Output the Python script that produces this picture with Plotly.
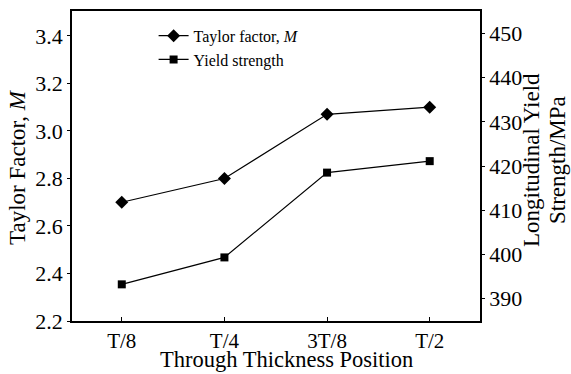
import plotly.graph_objects as go

positions = ["T/8", "T/4", "3T/8", "T/2"]
taylor_factor = [2.70, 2.80, 3.07, 3.10]
yield_strength = [393.2, 399.3, 418.5, 421.1]

x_title = "Through Thickness Position"
y_title = "Taylor Factor, <i>M</i>"
y2_title_lines = ["Longitudinal Yield", "Strength/MPa"]

FONT = "Liberation Serif"

fig = go.Figure()
fig.add_trace(go.Scatter(
    x=positions, y=taylor_factor, name="Taylor factor, <i>M</i>",
    mode="lines+markers",
    line=dict(color="black", width=1.2),
    marker=dict(symbol="diamond", size=10, color="black"),
))
fig.add_trace(go.Scatter(
    x=positions, y=yield_strength, name="Yield strength",
    mode="lines+markers", yaxis="y2",
    line=dict(color="black", width=1.2),
    marker=dict(symbol="square", size=8, color="black"),
))

def px_x(px):
    return (px - 72) / 408

def px_y(py):
    return (321 - py) / 310

annotations = [
    dict(text=x_title, xref="paper", yref="paper", x=px_x(286), y=px_y(359),
         xanchor="center", yanchor="middle", showarrow=False,
         font=dict(size=22.5, family=FONT, color="black")),
    dict(text=y_title, xref="paper", yref="paper", x=px_x(18), y=px_y(167),
         xanchor="center", yanchor="middle", showarrow=False, textangle=-90,
         font=dict(size=23, family=FONT, color="black")),
]
for line_text, cx in zip(y2_title_lines, [532, 558]):
    annotations.append(dict(
        text=line_text, xref="paper", yref="paper", x=px_x(cx), y=px_y(160),
        xanchor="center", yanchor="middle", showarrow=False, textangle=-90,
        font=dict(size=23, family=FONT, color="black")))

fig.update_layout(
    width=571, height=374,
    margin=dict(l=72, r=91, t=11, b=53, autoexpand=False),
    paper_bgcolor="white", plot_bgcolor="white",
    font=dict(family=FONT, color="black", size=22),
    showlegend=True,
    legend=dict(x=0.2, y=0.975, xanchor="left", yanchor="top",
                bgcolor="rgba(0,0,0,0)", font=dict(size=16, family=FONT),
                itemwidth=30, tracegroupgap=0),
    xaxis=dict(
        type="category", range=[-0.485, 3.49], automargin=False,
        showline=True, linecolor="black", linewidth=1.5, mirror=True,
        ticks="inside", ticklen=4, tickcolor="black",
        showgrid=False, zeroline=False,
        tickfont=dict(size=21),
    ),
    yaxis=dict(
        range=[2.2, 3.505], tickvals=[2.2, 2.4, 2.6, 2.8, 3.0, 3.2, 3.4],
        tickformat=".1f", automargin=False,
        showline=True, linecolor="black", linewidth=1.5,
        ticks="outside", ticklen=3, tickcolor="black",
        showgrid=False, zeroline=False,
        tickfont=dict(size=22),
    ),
    yaxis2=dict(
        overlaying="y", side="right",
        range=[384.9, 455.1], tickvals=[390, 400, 410, 420, 430, 440, 450],
        automargin=False,
        showline=True, linecolor="black", linewidth=1.5,
        ticks="outside", ticklen=3, tickcolor="black",
        showgrid=False, zeroline=False,
        tickfont=dict(size=22),
    ),
    annotations=annotations,
)

fig.write_html("out.html")
